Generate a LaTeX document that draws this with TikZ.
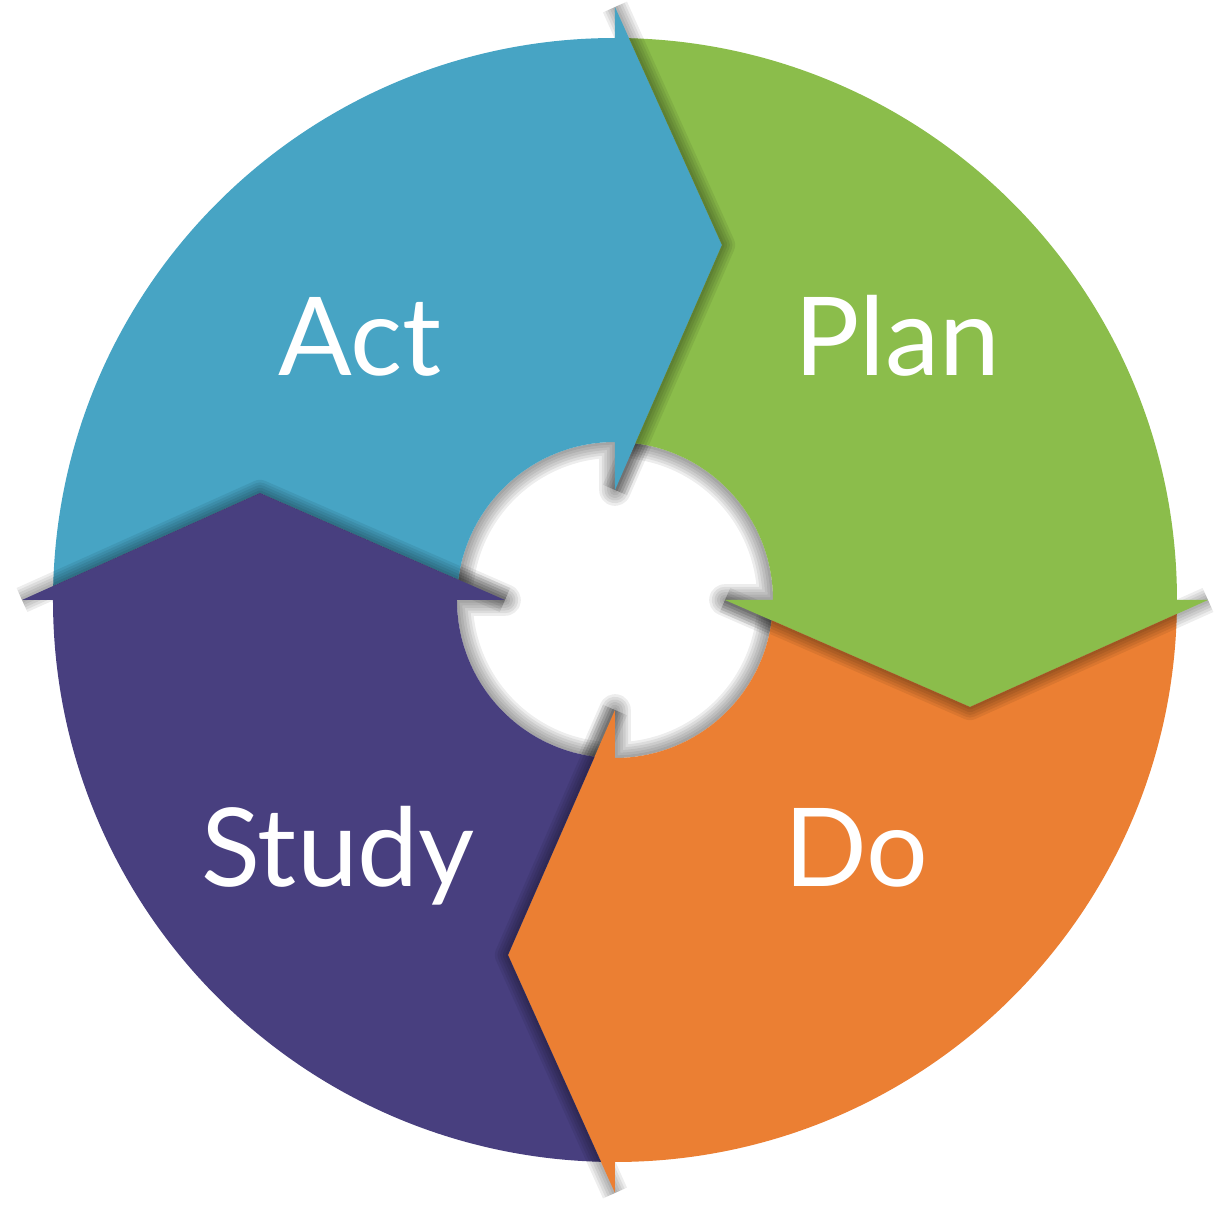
\documentclass[tikz,border=0pt]{standalone}
\usepackage{fontspec}
\setmainfont{Lato}
\definecolor{actblue}{HTML}{47A4C4}
\definecolor{plangreen}{HTML}{8BBD4B}
\definecolor{doorange}{HTML}{EB7F33}
\definecolor{studypurple}{HTML}{483F7F}
% one quarter of the ring, from 180 to 90 degrees, with its arrow tip
\newcommand{\pdsasegment}{(178.57:5.62) arc[start angle=178.57, end angle=90, radius=5.62]
  -- (0,5.93) -- (1.07,3.55) -- (0,1.10) -- (0,1.58)
  arc[start angle=90, end angle=172.59, radius=1.58] -- (-3.55,1.07) -- cycle}
\newcommand{\pdsatip}{(0,5.93) -- (1.07,3.55) -- (0,1.10)}

\begin{document}
\begin{tikzpicture}[halo/.style={draw=black, line width=#1, opacity=.07, line join=round},
    word/.style={text=white, font=\fontsize{31}{37}\selectfont, anchor=base, inner sep=0pt}]
  \useasboundingbox (-6.15,-6.12) rectangle (5.99,6.00);

  % shadows on the white ground
  \begin{scope}
    \clip (0,0) circle (1.58);
    \foreach \a in {0,-90,-180,-270}
      \foreach \w in {1.5pt,3pt,4.5pt,6pt,7.5pt,9pt}
        \path[halo=\w, rotate=\a] \pdsasegment;
  \end{scope}
  \foreach \a in {0,-90,-180,-270}
    \foreach \w in {1.5pt,3pt,4.5pt,6pt,7.5pt}
      \path[halo=\w, rotate=\a] \pdsatip;

  % the four arrows
  \foreach \a/\c in {0/actblue,-90/plangreen,-180/doorange,-270/studypurple}
    \fill[\c, rotate=\a] \pdsasegment;

  % each tip throws a shadow on the next arrow
  \foreach \a in {0,-90,-180,-270} {
    \begin{scope}
      \clip[rotate=\a-90] \pdsasegment;
      \foreach \w in {1.5pt,3pt,4.5pt,6pt,7.5pt}
        \path[halo=\w, rotate=\a] \pdsatip;
    \end{scope}
  }

  \node[word] (act) at (-2.55,2.24) {Act};
  \node[word] (plan) at (2.82,2.24) {Plan};
  \node[word] (study) at (-2.77,-2.87) {Study};
  \node[word] (do) at (2.41,-2.87) {Do};
\end{tikzpicture}
\end{document}
